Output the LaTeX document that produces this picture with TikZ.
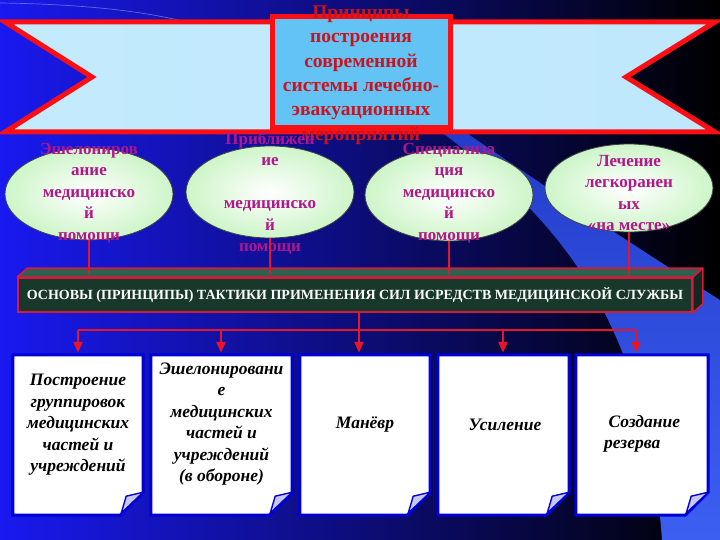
\documentclass[tikz,border=0pt]{standalone}
\usepackage{fontspec}
\setmainfont{Liberation Serif}
\usetikzlibrary{shapes.geometric,arrows.meta,calc}
\definecolor{bgblue}{RGB}{25,25,240}
\definecolor{bgmid}{RGB}{0,0,130}
\definecolor{swtop}{RGB}{35,60,200}
\definecolor{swbot}{RGB}{60,95,242}
\definecolor{ribred}{RGB}{250,15,20}
\definecolor{ribl}{RGB}{195,234,253}
\definecolor{ribm}{RGB}{95,195,248}
\definecolor{ribr}{RGB}{192,232,253}
\definecolor{tbfill}{RGB}{100,195,245}
\definecolor{titlered}{RGB}{200,20,30}
\definecolor{ellgreen}{RGB}{205,245,200}
\definecolor{elltxt}{RGB}{178,22,140}
\definecolor{barfront}{RGB}{24,56,44}
\definecolor{bartopc}{RGB}{50,95,80}
\definecolor{barside}{RGB}{18,40,32}
\definecolor{barred}{RGB}{215,25,60}
\definecolor{connred}{RGB}{232,20,40}
\definecolor{paperblue}{RGB}{0,0,215}
\definecolor{flapc}{RGB}{200,200,236}
\newcommand\paperpath[1]{%
  \draw[paperline] (#1.north west) -- (#1.north east) -- ([yshift=23pt]#1.south east)
     -- ([xshift=-23pt]#1.south east) -- (#1.south west) -- cycle;
  \draw[flapline] ([yshift=23pt]#1.south east) -- ([xshift=-17pt,yshift=19pt]#1.south east)
     -- ([xshift=-22pt,yshift=2pt]#1.south east) -- cycle;}
\begin{document}
\begin{tikzpicture}[x=1pt,y=-1pt,
  titlebox/.style={rectangle, minimum width=178pt, minimum height=111pt, draw=ribred, line width=5pt, fill=tbfill, inner sep=0pt},
  titletext/.style={align=center, text=titlered, font=\fontsize{19.5}{24.4}\selectfont\bfseries, inner sep=0pt},
  ell/.style={ellipse, minimum width=168pt, minimum height=92pt, draw=black!75, line width=0.8pt, inner color=white, outer color=ellgreen},
  elltext/.style={align=center, text=elltxt, font=\fontsize{17}{21.5}\selectfont\bfseries, inner sep=0pt},
  bar/.style={rectangle, minimum width=674pt, minimum height=34pt, fill=barfront, draw=barred, line width=1.6pt, text=white, font=\fontsize{14}{16}\selectfont\bfseries, inner sep=0pt},
  barface/.style={draw=barred, line width=1.6pt, line join=round},
  conn/.style={draw=connred, line width=2.5pt},
  arr/.style={conn, -{Triangle[length=11pt,width=9pt]}, shorten >=2pt},
  paperbox/.style={rectangle, minimum height=160pt, inner sep=0pt},
  paperline/.style={draw=paperblue, line width=3pt, fill=white, line join=miter},
  flapline/.style={draw=paperblue, line width=1.4pt, fill=flapc, line join=round},
  boxtext/.style={align=center, text=black, font=\fontsize{17.5}{21.5}\selectfont\bfseries\itshape, inner sep=0pt}
]
\useasboundingbox (0,0) rectangle (720,540);
% background
\shade[left color=bgblue, middle color=bgmid, right color=black] (0,0) rectangle (720,540);
\draw[white, opacity=0.35, line width=0.7pt] (0,3) .. controls (70,4) and (130,9) .. (178,20);
% swoosh
\shade[top color=swtop, bottom color=swbot]
  (432,125) .. controls (540,205) and (645,300) .. (662,540) -- (720,540) -- (720,300)
  .. controls (640,250) and (520,170) .. (455,125) -- cycle;
% ribbon
\draw[draw=ribred, line width=5pt, line join=miter, left color=ribl, middle color=ribm, right color=ribr]
  (5,22) -- (715,22) -- (626,77) -- (715,132) -- (5,132) -- (92,77) -- cycle;
\node[titlebox] (tb) at (361,72.5) {};
\node[titletext] (tt) at (361,75) {Принципы\\построения\\современной\\системы лечебно-\\эвакуационных\\мероприятий};
% ellipses
\node[ell] (e1) at (89,194) {};
\node[ell] (e2) at (270,192) {};
\node[ell] (e3) at (449,195) {};
\node[ell, minimum height=88pt] (e4) at (629,188) {};
\node[elltext] (l1) at (89,193) {Эшелониров\\ание\\медицинско\\й\\помощи};
\node[elltext] (l2) at (270,193.5) {Приближен\\ие\\\mbox{}\\медицинско\\й\\помощи};
\node[elltext] (l3) at (449,193) {Специализа\\ция\\медицинско\\й\\помощи};
\node[elltext] (l4) at (629,193) {Лечение\\легкоранен\\ых\\«на месте»};
% bar
\node[bar] (bar) at (355,295) {ОСНОВЫ (ПРИНЦИПЫ) ТАКТИКИ ПРИМЕНЕНИЯ СИЛ ИСРЕДСТВ МЕДИЦИНСКОЙ СЛУЖБЫ};
\draw[barface, fill=bartopc] (bar.north west) -- ([shift={(10,-9)}]bar.north west) -- ([shift={(10,-9)}]bar.north east) -- (bar.north east) -- cycle;
\draw[barface, fill=barside] (bar.north east) -- ([shift={(10,-9)}]bar.north east) -- ([shift={(10,-9)}]bar.south east) -- (bar.south east) -- cycle;
\coordinate (bartop) at (0,274);
\foreach \e in {e1,e2,e3,e4} \draw[conn, line width=2.2pt] (\e.south) -- (\e.south |- bartop);
% boxes
\node[paperbox, minimum width=130pt] (b1) at (78,435) {};
\node[paperbox, minimum width=141pt] (b2) at (221.5,435) {};
\node[paperbox, minimum width=130pt] (b3) at (365,435) {};
\node[paperbox, minimum width=131pt] (b4) at (503.5,435) {};
\node[paperbox, minimum width=132pt] (b5) at (642,435) {};
\paperpath{b1}\paperpath{b2}\paperpath{b3}\paperpath{b4}\paperpath{b5}
\node[boxtext] (t1) at (78,425) {Построение\\группировок\\медицинских\\частей и\\учреждений};
\node[boxtext] (t2) at (221.5,424) {Эшелонировани\\е\\медицинских\\частей и\\учреждений\\(в обороне)};
\node[boxtext] (t3) at (365,425) {Манёвр};
\node[boxtext] (t4) at (505,425) {Усиление};
\node[boxtext, align=left, anchor=west] (t5) at (604,434) {\ Создание\\резерва};
% lower connectors
\coordinate (h1) at (78,330);
\coordinate (h2) at (221,330);
\coordinate (h3) at (359,330);
\coordinate (h4) at (503,330);
\coordinate (h5) at (636,330);
\draw[conn] (bar.south -| h3) -- (h3);
\draw[conn] (h1) -- (h5);
\draw[arr] (h1) -- (h1 |- b1.north);
\draw[arr] (h2) -- (h2 |- b2.north);
\draw[arr] (h3) -- (h3 |- b3.north);
\draw[arr] (h4) -- (h4 |- b4.north);
\draw[arr] (h5) -- (h5 |- b5.north);
\end{tikzpicture}
\end{document}
